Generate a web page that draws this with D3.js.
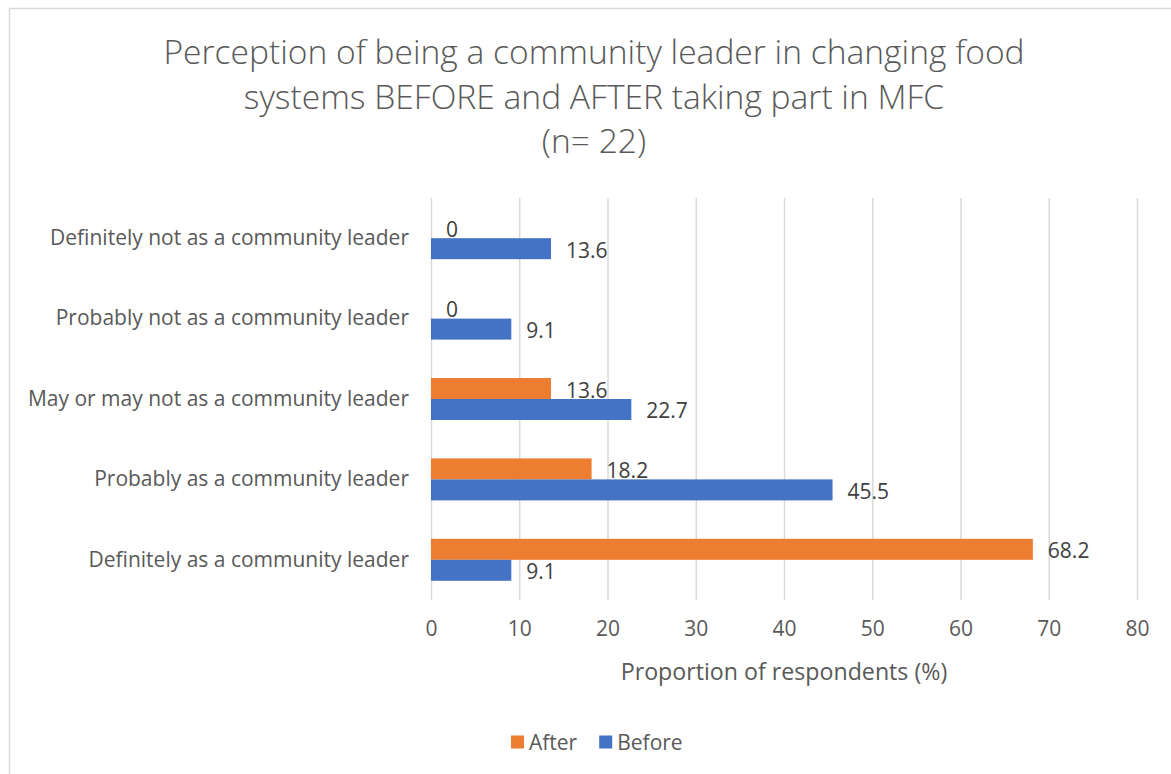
<!DOCTYPE html>
<html>
<head>
<meta charset="utf-8">
<script src="https://cdn.jsdelivr.net/npm/d3@7"></script>
<style>
  html, body { margin: 0; padding: 0; background: #ffffff; }
  svg { display: block; font-family: "Open Sans", Lato, sans-serif; }
</style>
</head>
<body>
<svg id="chart" width="1171" height="774"></svg>
<script>
// Survey responses (% of respondents, n = 22)
const categories = [
  "Definitely not as a community leader",
  "Probably not as a community leader",
  "May or may not as a community leader",
  "Probably as a community leader",
  "Definitely as a community leader"
];
const seriesNames = ["After", "Before"];
const afterValues = [0, 0, 13.6, 18.2, 68.2];
const beforeValues = [13.6, 9.1, 22.7, 45.5, 9.1];
const xTicks = [0, 10, 20, 30, 40, 50, 60, 70, 80];
const titleLines = [
  "Perception of being a community leader in changing food",
  "systems BEFORE and AFTER taking part in MFC",
  "(n= 22)"
];
const xAxisTitle = "Proportion of respondents (%)";

const colors = { After: "#ED7D31", Before: "#4472C4" };
const valuesBySeries = { After: afterValues, Before: beforeValues };

const svg = d3.select("#chart");

// chart frame
svg.append("rect")
  .attr("x", 9.5).attr("y", 8.5)
  .attr("width", 1200).attr("height", 800)
  .attr("fill", "none").attr("stroke", "#d9d9d9").attr("stroke-width", 1.5);

const plot = { left: 431, right: 1137, top: 198, bottom: 600 };

const x = d3.scaleLinear().domain([0, 80]).range([plot.left, plot.right]);
const y = d3.scaleBand().domain(categories)
  .range([plot.top, plot.bottom])
  .paddingInner(0.478).paddingOuter(0.239);
const ySub = d3.scaleBand().domain(seriesNames).range([0, y.bandwidth()]);

// title
const title = svg.append("text")
  .attr("text-anchor", "middle")
  .attr("fill", "#595959")
  .style("font-size", "33.6px")
  .style("font-weight", 300);
titleLines.forEach((line, i) => {
  title.append("tspan").attr("x", 594).attr("y", 64 + i * 44.5).text(line);
});

// vertical gridlines
svg.append("g")
  .attr("transform", `translate(0,${plot.bottom})`)
  .call(d3.axisBottom(x).tickValues(xTicks).tickSize(-(plot.bottom - plot.top)).tickFormat(""))
  .call(g => g.select(".domain").remove())
  .call(g => g.selectAll("line").attr("stroke", "#d9d9d9").attr("stroke-width", 1.5));

// x tick labels
svg.append("g")
  .attr("transform", `translate(0,${plot.bottom})`)
  .call(d3.axisBottom(x).tickValues(xTicks).tickSize(0).tickPadding(21))
  .call(g => g.select(".domain").remove())
  .call(g => g.selectAll("text")
    .attr("fill", "#595959")
    .style("font-size", "21px")
    .style("font-family", "'Open Sans', sans-serif"));

// category labels
svg.append("g")
  .attr("transform", `translate(${plot.left},0)`)
  .call(d3.axisLeft(y).tickSize(0).tickPadding(22))
  .call(g => g.select(".domain").remove())
  .call(g => g.selectAll("text")
    .attr("fill", "#595959")
    .style("font-size", "21px")
    .style("font-family", "'Open Sans', sans-serif"));

// bars
const rows = [];
categories.forEach((c, i) => {
  seriesNames.forEach(s => rows.push({ category: c, series: s, value: valuesBySeries[s][i] }));
});

svg.append("g").selectAll("rect")
  .data(rows)
  .join("rect")
  .attr("x", x(0))
  .attr("y", d => y(d.category) + ySub(d.series))
  .attr("width", d => x(d.value) - x(0))
  .attr("height", ySub.bandwidth())
  .attr("fill", d => colors[d.series]);

// value labels
svg.append("g").selectAll("text")
  .data(rows)
  .join("text")
  .attr("x", d => x(d.value) + 15)
  .attr("y", d => y(d.category) + ySub(d.series) + ySub.bandwidth() / 2 + 1)
  .attr("dominant-baseline", "central")
  .attr("fill", "#404040")
  .style("font-size", "21px")
  .text(d => d.value);

// x axis title
svg.append("text")
  .attr("x", (plot.left + plot.right) / 2)
  .attr("y", 671)
  .attr("text-anchor", "middle")
  .attr("dominant-baseline", "central")
  .attr("fill", "#595959")
  .style("font-size", "23.2px")
  .text(xAxisTitle);

// legend
const legend = svg.append("g").attr("transform", "translate(511,742)");
let lx = 0;
seriesNames.forEach(s => {
  const item = legend.append("g").attr("transform", `translate(${lx},0)`);
  item.append("rect").attr("x", 0).attr("y", -6.5).attr("width", 13).attr("height", 13).attr("fill", colors[s]);
  const t = item.append("text")
    .attr("x", 18).attr("y", 0)
    .attr("dominant-baseline", "central")
    .attr("fill", "#595959")
    .style("font-size", "21px")
    .text(s);
  lx += 18 + t.node().getComputedTextLength() + 22;
});
</script>
</body>
</html>
